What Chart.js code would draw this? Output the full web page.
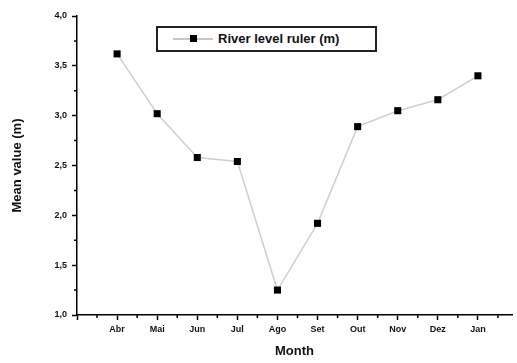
<!DOCTYPE html>
<html>
<head>
<meta charset="utf-8">
<script src="https://cdn.jsdelivr.net/npm/chart.js@4"></script>
<style>
  html, body { margin: 0; padding: 0; background: #fff; }
  #wrap { position: relative; width: 517px; height: 363px; }
  #legend {
    position: absolute; left: 156px; top: 26px; width: 217px; height: 22px;
    border: 2px solid #222; background: #fff;
    font: bold 13px "Liberation Sans", Arial, sans-serif; color: #111;
  }
  #legend .line { position: absolute; left: 15px; top: 10px; width: 40px; height: 2px; background: #c8c8c8; }
  #legend .mark { position: absolute; left: 32px; top: 7px; width: 7px; height: 7px; background: #000; }
  #legend .txt { position: absolute; left: 60px; top: 3px; white-space: nowrap; }
</style>
</head>
<body>
<div id="wrap">
  <canvas id="chart" width="517" height="363"></canvas>
  <div id="legend"><span class="line"></span><span class="mark"></span><span class="txt"></span></div>
</div>
<script>
// ===============================
// DATA
// ===============================

const months = ["Abr", "Mai", "Jun", "Jul", "Ago", "Set", "Out", "Nov", "Dez", "Jan"];
const riverLevel = [3.62, 3.02, 2.58, 2.54, 1.25, 1.92, 2.89, 3.05, 3.16, 3.40];
const seriesName = "River level ruler (m)";
const yTicks = [1.0, 1.5, 2.0, 2.5, 3.0, 3.5, 4.0];
const xTitle = "Month";
const yTitle = "Mean value (m)";

document.querySelector("#legend .txt").textContent = seriesName;

const tickFont = { family: "'Liberation Sans', Arial, sans-serif", size: 9, weight: "bold" };
const titleFont = { family: "'Liberation Sans', Arial, sans-serif", size: 13, weight: "bold" };

// ===============================
// MINOR TICKS
// ===============================

const minorTicks = {
  id: "minorTicks",
  afterDraw(chart) {
    const { ctx, chartArea, scales } = chart;
    ctx.save();
    ctx.strokeStyle = "#000";
    ctx.lineWidth = 1.5;
    ctx.beginPath();
    for (let i = 0; i < yTicks.length - 1; i++) {
      const y = scales.y.getPixelForValue((yTicks[i] + yTicks[i + 1]) / 2);
      ctx.moveTo(chartArea.left - 3, y);
      ctx.lineTo(chartArea.left, y);
    }
    for (let i = -1; i < months.length; i++) {
      const x = scales.x.getPixelForValue(i + 0.5);
      ctx.moveTo(x, chartArea.bottom);
      ctx.lineTo(x, chartArea.bottom + 3);
    }
    ctx.stroke();
    ctx.restore();
  }
};

// ===============================
// CHART
// ===============================

new Chart(document.getElementById("chart"), {
  type: "line",
  data: {
    datasets: [{
      label: seriesName,
      data: riverLevel.map((v, i) => ({ x: i, y: v })),
      borderColor: "#cfcfcf",
      borderWidth: 1.5,
      pointStyle: "rect",
      pointRadius: 5,
      pointBackgroundColor: "#000",
      pointBorderColor: "#000",
      pointBorderWidth: 0,
      tension: 0
    }]
  },
  options: {
    responsive: false,
    animation: false,
    devicePixelRatio: 1,
    layout: { padding: { top: 16, left: 0, right: 0, bottom: 0 } },
    plugins: { legend: { display: false }, tooltip: { enabled: false } },
    scales: {
      x: {
        type: "linear",
        min: -1,
        max: 9.85,
        afterFit: s => { s.height = 48; },
        border: { color: "#000", width: 1.5 },
        grid: { drawOnChartArea: false, tickLength: 5, tickColor: "#000", tickWidth: 1.5 },
        ticks: {
          stepSize: 1,
          includeBounds: false,
          autoSkip: false,
          maxRotation: 0,
          padding: 4,
          color: "#111",
          font: tickFont,
          callback: v => months[v] ?? ""
        },
        title: { display: true, text: xTitle, color: "#111", font: titleFont, padding: { top: 4 } }
      },
      y: {
        min: 1,
        max: 4,
        afterFit: s => { s.width = 77; },
        border: { color: "#000", width: 1.5 },
        grid: { drawOnChartArea: false, tickLength: 5, tickColor: "#000", tickWidth: 1.5 },
        ticks: {
          stepSize: 0.5,
          padding: 5,
          color: "#111",
          font: tickFont,
          callback: v => v.toFixed(1).replace(".", ",")
        },
        title: { display: true, text: yTitle, color: "#111", font: titleFont, padding: { bottom: 0, top: 10 } }
      }
    }
  },
  plugins: [minorTicks]
});
</script>
</body>
</html>
